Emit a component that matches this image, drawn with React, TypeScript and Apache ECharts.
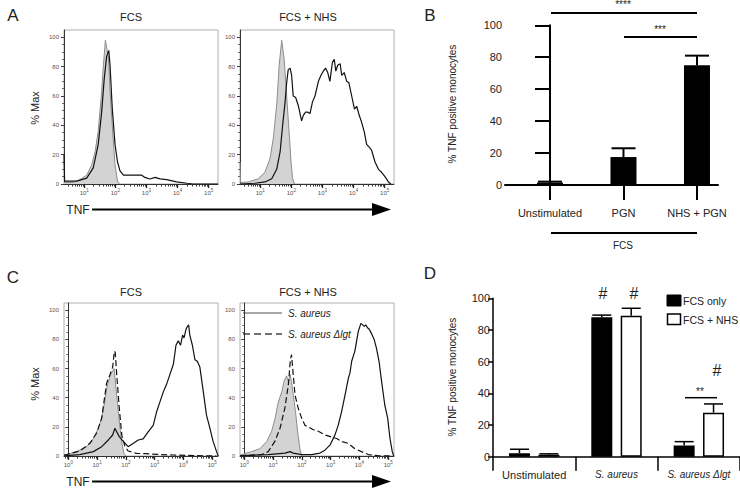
import React, { useEffect, useRef } from 'react';
import * as echarts from 'echarts';

const FONT = '"Liberation Sans", Arial, Helvetica, sans-serif';

// ---------- Histogram data: [log10 TNF, % Max] ----------
const A_FCS_ISO = [[0.35,1],[0.65,1],[0.86,3],[1.08,6],[1.24,13],[1.35,22],[1.45,36],[1.56,63],[1.61,79],[1.68,98],[1.78,86],[1.83,63],[1.92,34],[1.99,13],[2.07,2],[2.13,0]];
const A_FCS_STIM = [[0.35,20],[0.37,2],[0.43,2],[0.76,2],[1.08,4],[1.29,11],[1.45,27],[1.56,49],[1.64,71],[1.72,87],[1.79,91],[1.83,81],[1.9,52],[1.99,27],[2.07,15],[2.15,9],[2.26,6],[2.58,6],[2.85,6],[2.95,4.5],[3.11,3.4],[3.28,4.5],[3.44,3.5],[3.65,3],[3.97,1.5],[4.3,0.5],[4.5,0],[5.3,0]];
const A_NHS_ISO = [[0.35,15],[0.37,1],[0.62,1.4],[0.94,3.6],[1.15,8],[1.31,17],[1.42,31],[1.53,54],[1.61,81],[1.69,98],[1.77,85],[1.85,60],[1.93,35],[1.99,15],[2.04,4],[2.1,0]];
const A_NHS_STIM = [[0.35,0],[0.83,0.5],[1.15,1.4],[1.37,3.6],[1.53,10],[1.64,22],[1.72,40],[1.8,56],[1.85,69],[1.9,78],[1.96,79],[2.01,74],[2.06,60],[2.14,59],[2.23,53],[2.33,43],[2.39,47],[2.46,49],[2.53,49],[2.6,48],[2.68,56],[2.76,60],[2.87,70],[2.95,74],[3.03,77],[3.1,79],[3.17,76],[3.24,70],[3.32,83],[3.38,85],[3.43,77],[3.49,81],[3.57,82],[3.62,74],[3.7,76],[3.78,70],[3.85,69],[3.94,60],[4.03,51],[4.1,53],[4.18,47],[4.26,42],[4.35,35],[4.42,27],[4.51,25],[4.58,23],[4.69,15],[4.8,10],[4.9,8],[5.01,5],[5.12,1.4],[5.2,0]];

const C_FCS_ISO = [[-0.15,1],[-0.06,1],[0.29,3],[0.64,6.4],[0.87,12],[1.04,19],[1.16,26],[1.27,38],[1.35,48],[1.45,55],[1.53,58],[1.59,60],[1.68,42],[1.77,24],[1.85,10],[1.93,2],[2.0,0]];
const C_FCS_LGT = [[-0.15,0.5],[-0.06,1],[0.4,3.4],[0.75,8.7],[0.98,15.6],[1.16,26],[1.33,50],[1.45,56],[1.54,61],[1.6,72],[1.63,71],[1.68,56],[1.77,33],[1.86,14],[1.97,6.4],[2.08,3.4],[2.37,1.8],[2.72,1.6],[3.18,1],[3.65,0.7],[4.34,0.3],[5.15,0]];
const C_FCS_WT = [[-0.15,0],[-0.06,0.2],[0.4,1],[0.87,3],[1.16,6.4],[1.39,11],[1.54,14.4],[1.62,19],[1.68,16.7],[1.77,13.3],[1.91,10],[2.08,6.4],[2.26,8.7],[2.43,11],[2.6,11.7],[2.78,16.7],[2.95,21],[3.07,30.5],[3.18,37],[3.3,44],[3.41,49],[3.53,56],[3.65,63],[3.74,76],[3.82,79],[3.9,76],[3.97,83],[4.02,81],[4.09,87],[4.14,89],[4.18,90],[4.22,83],[4.31,76],[4.4,66],[4.48,65],[4.57,61],[4.69,44],[4.8,28],[4.92,19],[5.03,10],[5.15,3],[5.21,0]];
const C_NHS_ISO = [[-0.15,0.5],[-0.09,1],[0.25,3],[0.54,5],[0.78,10],[0.95,17],[1.07,26],[1.18,37],[1.3,44],[1.39,52],[1.47,55],[1.53,51],[1.59,56],[1.64,51],[1.7,42],[1.78,30],[1.85,17],[1.93,5],[1.99,0]];
const C_NHS_LGT = [[-0.15,0],[-0.09,0.2],[0.6,1],[0.83,3],[1.06,10],[1.24,19],[1.41,33],[1.53,49],[1.6,66],[1.64,69.5],[1.69,58],[1.76,42],[1.87,33],[1.99,26],[2.11,21],[2.22,20],[2.4,18],[2.57,17],[2.8,14.5],[3.03,13],[3.21,12],[3.38,10],[3.61,8.7],[3.84,5],[4.07,3],[4.31,1],[4.65,0.2],[5.12,0]];
const C_NHS_WT = [[-0.15,0],[-0.09,0.2],[0.83,1],[1.41,2],[1.59,3],[1.7,2],[1.99,1],[2.34,1],[2.63,2],[2.8,4],[2.98,7.6],[3.15,14.5],[3.26,21],[3.38,30.5],[3.5,42],[3.61,53],[3.67,57],[3.73,65],[3.84,72],[3.96,85.5],[4.05,91],[4.11,90],[4.17,89],[4.22,90],[4.28,88],[4.34,87],[4.42,84],[4.51,80],[4.59,74],[4.68,65],[4.77,51],[4.88,35],[4.98,26],[5.06,12],[5.14,3],[5.19,0]];

const HIST_Y_MAJOR = [0, 20, 40, 60, 80, 100];
const HIST_Y_MINOR = [0,5,10,15,20,25,30,35,40,45,50,55,60,65,70,75,80,85,90,95,100];
const A_DECADES = [1, 2, 3, 4, 5];
const C_DECADES = [0, 1, 2, 3, 4, 5];

// ---------- Bar data ----------
const B_CATEGORIES = ['Unstimulated', 'PGN', 'NHS + PGN'];
const B_MEAN = [1.5, 17.5, 75];
const B_SEM = [0.6, 5.5, 6];

const D_CATEGORIES = ['Unstimulated', 'S. aureus', 'S. aureus Δlgt'];
const D_SERIES = ['FCS only', 'FCS + NHS'];
const D_FCS_MEAN = [2.1, 88, 7];
const D_FCS_SEM = [2.6, 1.4, 2.5];
const D_NHS_MEAN = [1.2, 89, 27.8];
const D_NHS_SEM = [0.6, 4.7, 5.5];

function logMinor(min: number, max: number) {
  const out: number[] = [];
  for (let n = Math.floor(min); n <= Math.ceil(max); n++) {
    for (let k = 2; k <= 9; k++) {
      const v = n + Math.log10(k);
      if (v >= min && v <= max) out.push(v);
    }
  }
  return out;
}

function histPanel(g: number, left: number, top: number, height: number, min: number, max: number, decades: number[]) {
  const grid = { left, top, width: 154, height, show: true, borderColor: '#b0b0b0', borderWidth: 1, backgroundColor: 'transparent' };
  const axisLine = { show: true, lineStyle: { color: '#333', width: 1 } };
  const xMajor = {
    type: 'value', gridIndex: g, min, max, position: 'bottom',
    axisLine,
    axisTick: { show: true, customValues: decades, length: 4, lineStyle: { color: '#222', width: 1.3 } },
    axisLabel: {
      customValues: decades, margin: 4,
      formatter: (v: number) => `{b|10}{s|${Math.round(v)}}`,
      rich: {
        b: { fontSize: 6, color: '#555', fontFamily: FONT },
        s: { fontSize: 4.5, color: '#555', fontFamily: FONT, verticalAlign: 'top', padding: [0, 0, 4, 0] },
      },
    },
    splitLine: { show: false },
  };
  const xMinor = {
    type: 'value', gridIndex: g, min, max, position: 'bottom',
    axisLine: { show: false },
    axisTick: { show: true, customValues: logMinor(min, max), length: 2.5, lineStyle: { color: '#333', width: 1 } },
    axisLabel: { show: false },
    splitLine: { show: false },
  };
  const yMajor = {
    type: 'value', gridIndex: g, min: 0, max: 105, position: 'left',
    axisLine,
    axisTick: { show: true, customValues: HIST_Y_MAJOR, length: 3, lineStyle: { color: '#333', width: 1 } },
    axisLabel: { customValues: HIST_Y_MAJOR, fontSize: 6, color: '#555', fontFamily: FONT, margin: 5 },
    splitLine: { show: false },
  };
  const yMinor = {
    type: 'value', gridIndex: g, min: 0, max: 105, position: 'left',
    axisLine: { show: false },
    axisTick: { show: true, customValues: HIST_Y_MINOR, length: 2, lineStyle: { color: '#444', width: 0.8 } },
    axisLabel: { show: false },
    splitLine: { show: false },
  };
  return { grid, xAxes: [xMajor, xMinor], yAxes: [yMajor, yMinor] };
}

function isoSeries(name: string, g: number, data: number[][]) {
  return {
    name, type: 'line', xAxisIndex: 2 * g, yAxisIndex: 2 * g, data, symbol: 'none', showSymbol: false,
    lineStyle: { color: '#8c8c8c', width: 1 }, areaStyle: { color: '#d3d3d3', opacity: 1 }, z: 2, silent: true,
  };
}
function lineSeries(name: string, g: number, data: number[][], dashed = false) {
  return {
    name, type: 'line', xAxisIndex: 2 * g, yAxisIndex: 2 * g, data, symbol: 'none', showSymbol: false,
    lineStyle: { color: '#111', width: 1.2, type: dashed ? [6, 3] : 'solid' }, z: 3, silent: true,
  };
}

function txt(text: string, x: number, y: number, fontSize: number, extra: any = {}) {
  return {
    type: 'text', x, y, rotation: extra.rotation || 0, silent: true,
    style: {
      text, fontSize, fontFamily: FONT, fill: extra.fill || '#222', fontStyle: extra.fontStyle || 'normal',
      align: extra.align || 'center', verticalAlign: 'middle',
      textAlign: extra.align || 'center', textVerticalAlign: 'middle',
    },
  };
}
function seg(x1: number, y1: number, x2: number, y2: number, w: number, extra: any = {}) {
  return {
    type: 'line', silent: true, shape: { x1, y1, x2, y2 },
    style: { stroke: extra.stroke || '#000', lineWidth: w, lineDash: extra.lineDash || null },
  };
}

export default function App() {
  const ref = useRef<HTMLDivElement>(null);
  useEffect(() => {
    if (!ref.current) return;
    const chart = echarts.init(ref.current, undefined, { renderer: 'svg' });

    const p0 = histPanel(0, 64, 30, 154, 0.35, 5.3, A_DECADES);
    const p1 = histPanel(1, 240, 30, 154, 0.35, 5.3, A_DECADES);
    const p2 = histPanel(2, 64, 303, 153, -0.15, 5.2, C_DECADES);
    const p3 = histPanel(3, 240, 303, 153, -0.15, 5.2, C_DECADES);

    const gridB = { left: 505, top: 25.3, width: 213, height: 159.7, show: false };
    const gridD = { left: 493, top: 298.3, width: 255, height: 158.4, show: false };

    const xB = {
      type: 'value', gridIndex: 4, min: -0.612, max: 2.286,
      axisLine: { show: true, lineStyle: { color: '#000', width: 2 } },
      axisTick: { show: true, customValues: [0, 1, 2], length: 15, lineStyle: { color: '#000', width: 2 } },
      axisLabel: { customValues: [0, 1, 2], formatter: (v: number) => B_CATEGORIES[Math.round(v)], fontSize: 11, color: '#222', fontFamily: FONT, margin: 22 },
      splitLine: { show: false },
    };
    const yB = {
      type: 'value', gridIndex: 4, min: 0, max: 100, interval: 20,
      axisLine: { show: true, lineStyle: { color: '#000', width: 2 } },
      axisTick: { show: true, length: 15, lineStyle: { color: '#000', width: 2 } },
      axisLabel: { fontSize: 11, color: '#222', fontFamily: FONT, margin: 3 },
      splitLine: { show: false },
    };
    const xD = {
      type: 'category', gridIndex: 5, data: D_CATEGORIES,
      axisLine: { show: true, lineStyle: { color: '#000', width: 1.5 } },
      axisTick: { show: true, length: 14, lineStyle: { color: '#000', width: 1.5 } },
      axisLabel: {
        interval: 0, margin: 13, fontSize: 11, color: '#222', fontFamily: FONT,
        formatter: (v: string) => (v === 'Unstimulated' ? v : `{i|${v}}`),
        rich: { i: { fontStyle: 'italic', fontSize: 10, color: '#222', fontFamily: FONT } },
      },
      splitLine: { show: false },
    };
    const yD = {
      type: 'value', gridIndex: 5, min: 0, max: 100, interval: 20,
      axisLine: { show: true, lineStyle: { color: '#000', width: 1.5 } },
      axisTick: { show: true, length: 5, lineStyle: { color: '#000', width: 1.5 } },
      axisLabel: { fontSize: 11, color: '#222', fontFamily: FONT, margin: 3 },
      splitLine: { show: false },
    };

    const errRender = (offset: number, cap: number, lw: number) => (params: any, api: any) => {
      const x = api.value(0), m = api.value(1), t = api.value(2);
      const a = api.coord([x, m]);
      const b = api.coord([x, t]);
      const cx = a[0] + offset;
      return {
        type: 'group',
        children: [
          { type: 'line', shape: { x1: cx, y1: a[1], x2: cx, y2: b[1] }, style: { stroke: '#000', lineWidth: lw } },
          { type: 'line', shape: { x1: cx - cap / 2, y1: b[1], x2: cx + cap / 2, y2: b[1] }, style: { stroke: '#000', lineWidth: lw } },
        ],
      };
    };

    const series: any[] = [
      isoSeries('A FCS isotype', 0, A_FCS_ISO), lineSeries('A FCS stimulated', 0, A_FCS_STIM),
      isoSeries('A NHS isotype', 1, A_NHS_ISO), lineSeries('A NHS stimulated', 1, A_NHS_STIM),
      isoSeries('C FCS isotype', 2, C_FCS_ISO), lineSeries('C FCS lgt', 2, C_FCS_LGT, true), lineSeries('C FCS wt', 2, C_FCS_WT),
      isoSeries('C NHS isotype', 3, C_NHS_ISO), lineSeries('C NHS lgt', 3, C_NHS_LGT, true), lineSeries('C NHS wt', 3, C_NHS_WT),
      {
        name: 'B mean', type: 'bar', xAxisIndex: 8, yAxisIndex: 8, barWidth: 26,
        data: B_MEAN.map((v, i) => [i, v]), itemStyle: { color: '#000' }, silent: true,
      },
      {
        name: 'B sem', type: 'custom', xAxisIndex: 8, yAxisIndex: 8, z: 5, silent: true,
        data: B_MEAN.map((v, i) => [i, v, v + B_SEM[i]]), renderItem: errRender(0, 24, 2),
      },
      {
        name: D_SERIES[0], type: 'bar', xAxisIndex: 9, yAxisIndex: 9, barWidth: 21, barGap: '40%',
        data: D_FCS_MEAN, itemStyle: { color: '#000', borderColor: '#000', borderWidth: 1.5 }, silent: true,
      },
      {
        name: D_SERIES[1], type: 'bar', xAxisIndex: 9, yAxisIndex: 9, barWidth: 21, barGap: '40%',
        data: D_NHS_MEAN, itemStyle: { color: '#fff', borderColor: '#000', borderWidth: 1.5 }, silent: true,
      },
      {
        name: 'D FCS sem', type: 'custom', xAxisIndex: 9, yAxisIndex: 9, z: 5, silent: true,
        data: D_FCS_MEAN.map((v, i) => [i, v, v + D_FCS_SEM[i]]), renderItem: errRender(-14.7, 19, 1.5),
      },
      {
        name: 'D NHS sem', type: 'custom', xAxisIndex: 9, yAxisIndex: 9, z: 5, silent: true,
        data: D_NHS_MEAN.map((v, i) => [i, v, v + D_NHS_SEM[i]]), renderItem: errRender(14.7, 19, 1.5),
      },
    ];

    const graphics: any[] = [
      txt('A', 13, 15, 17), txt('B', 430, 15, 17), txt('C', 13, 277, 17), txt('D', 430, 273, 17),
      txt('FCS', 131, 17, 11), txt('FCS + NHS', 308, 17, 11),
      txt('FCS', 131, 292, 11), txt('FCS + NHS', 308, 292, 11),
      txt('% Max', 35, 108, 11, { rotation: Math.PI / 2 }),
      txt('% Max', 35, 384, 11, { rotation: Math.PI / 2 }),
      txt('TNF', 78, 210, 12), seg(92, 209.5, 374, 209.5, 2),
      { type: 'polygon', silent: true, shape: { points: [[372, 203], [391, 209.5], [372, 216]] }, style: { fill: '#000' } },
      txt('TNF', 78, 482, 12), seg(92, 481.5, 374, 481.5, 2),
      { type: 'polygon', silent: true, shape: { points: [[372, 475], [391, 481.5], [372, 488]] }, style: { fill: '#000' } },
      // C legend
      seg(243, 313, 282, 313, 1.5, { stroke: '#8a8a8a' }), txt('S. aureus', 288, 313, 10, { align: 'left', fontStyle: 'italic' }),
      seg(243, 334, 282, 334, 1.3, { stroke: '#444', lineDash: [7, 4] }), txt('S. aureus Δlgt', 288, 334, 10, { align: 'left', fontStyle: 'italic' }),
      // B annotations
      txt('% TNF positive monocytes', 452, 104, 10, { rotation: Math.PI / 2 }),
      seg(551, 13, 697, 13, 2), txt('****', 623, 4, 10),
      seg(624, 37, 697, 37, 2), txt('***', 660, 29, 10),
      seg(551, 233, 697, 233, 2), txt('FCS', 623, 245, 10),
      // D annotations
      txt('% TNF positive monocytes', 452, 377, 10, { rotation: Math.PI / 2 }),
      txt('#', 603, 293, 16), txt('#', 634, 293, 16), txt('#', 717, 370, 16),
      seg(685, 397.7, 717, 397.7, 1.5), txt('**', 700, 391, 10),
      // D legend
      { type: 'rect', silent: true, shape: { x: 667, y: 295, width: 14, height: 11 }, style: { fill: '#000', stroke: '#000', lineWidth: 1 } },
      txt(D_SERIES[0], 683, 300.5, 10.5, { align: 'left' }),
      { type: 'rect', silent: true, shape: { x: 667.5, y: 314, width: 13, height: 10.5 }, style: { fill: '#fff', stroke: '#000', lineWidth: 1.5 } },
      txt(D_SERIES[1], 683, 319.5, 10.5, { align: 'left' }),
    ];

    chart.setOption({
      animation: false,
      textStyle: { fontFamily: FONT },
      grid: [p0.grid, p1.grid, p2.grid, p3.grid, gridB, gridD],
      xAxis: [...p0.xAxes, ...p1.xAxes, ...p2.xAxes, ...p3.xAxes, xB, xD],
      yAxis: [...p0.yAxes, ...p1.yAxes, ...p2.yAxes, ...p3.yAxes, yB, yD],
      series,
      graphic: { elements: graphics },
    });
    return () => chart.dispose();
  }, []);
  return <div ref={ref} style={{ position: 'fixed', left: 0, top: 0, width: 740, height: 491, background: '#fff' }} />;
}
